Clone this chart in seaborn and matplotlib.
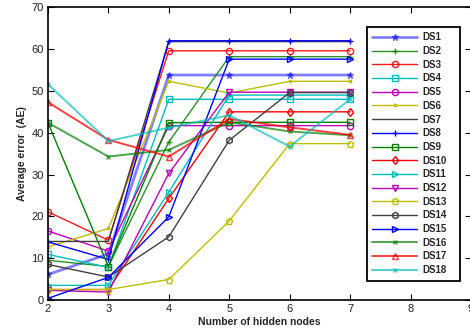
import matplotlib
matplotlib.use("Agg")
import matplotlib.pyplot as plt
import seaborn as sns
import pandas as pd

# hidden-node counts on the x axis
hidden_nodes = [2, 3, 4, 5, 6, 7]

# average error per dataset
DS1 = [6.1, 11.0, 53.8, 53.8, 53.8, 53.8]
DS2 = [9.5, 8.0, 37.8, 58.2, 58.2, 58.2]
DS3 = [21.1, 14.3, 59.6, 59.6, 59.6, 59.6]
DS4 = [10.9, 7.8, 48.0, 48.0, 48.0, 48.0]
DS5 = [16.5, 11.7, 41.7, 41.7, 41.7, 41.7]
DS6 = [12.7, 17.1, 52.3, 49.5, 52.3, 52.3]
DS7 = [14.0, 14.0, 61.8, 61.8, 61.8, 61.8]
DS8 = [13.9, 9.7, 62.0, 62.0, 62.0, 62.0]
DS9 = [42.4, 8.0, 42.4, 42.5, 42.5, 42.5]
DS10 = [2.5, 2.5, 24.3, 45.0, 45.0, 45.0]
DS11 = [3.5, 3.5, 25.8, 49.0, 49.0, 49.0]
DS12 = [2.3, 1.9, 30.3, 49.7, 49.7, 49.7]
DS13 = [2.5, 2.5, 4.9, 18.9, 37.4, 37.4]
DS14 = [8.5, 5.5, 15.1, 38.2, 49.6, 49.6]
DS15 = [0.4, 5.4, 19.9, 57.6, 57.6, 57.6]
DS16 = [42.4, 34.3, 35.9, 42.5, 40.3, 39.4]
DS17 = [47.3, 38.3, 34.3, 43.3, 41.3, 39.5]
DS18 = [51.6, 38.0, 41.2, 44.2, 36.7, 48.0]

series_names = ["DS1", "DS2", "DS3", "DS4", "DS5", "DS6", "DS7", "DS8", "DS9",
                "DS10", "DS11", "DS12", "DS13", "DS14", "DS15", "DS16", "DS17", "DS18"]
series_values = [DS1, DS2, DS3, DS4, DS5, DS6, DS7, DS8, DS9,
                 DS10, DS11, DS12, DS13, DS14, DS15, DS16, DS17, DS18]

BLUE = (0.0, 0.0, 1.0)
GREEN = (0.0, 0.5, 0.0)
RED = (1.0, 0.0, 0.0)
CYAN = (0.0, 0.75, 0.75)
MAGENTA = (0.75, 0.0, 0.75)
YELLOW = (0.75, 0.75, 0.0)
DARK = (0.25, 0.25, 0.25)

# colour, marker, hollow marker, line width, alpha
styles = {
    "DS1": (BLUE, "*", False, 2.0, 0.5),
    "DS2": (GREEN, "+", False, 1.0, 0.85),
    "DS3": (RED, "o", True, 1.0, 0.9),
    "DS4": (CYAN, "s", True, 1.0, 1.0),
    "DS5": (MAGENTA, "o", True, 1.0, 1.0),
    "DS6": (YELLOW, ".", False, 1.0, 1.0),
    "DS7": (DARK, "", False, 1.0, 1.0),
    "DS8": (BLUE, "+", False, 1.0, 1.0),
    "DS9": (GREEN, "s", True, 1.0, 1.0),
    "DS10": (RED, "d", True, 1.0, 1.0),
    "DS11": (CYAN, ">", True, 1.0, 1.0),
    "DS12": (MAGENTA, "v", True, 1.0, 1.0),
    "DS13": (YELLOW, "p", True, 1.0, 1.0),
    "DS14": (DARK, "h", True, 1.0, 1.0),
    "DS15": (BLUE, ">", True, 1.0, 1.0),
    "DS16": (GREEN, "x", False, 1.4, 0.7),
    "DS17": (RED, "^", True, 1.4, 0.75),
    "DS18": (CYAN, "x", False, 1.4, 0.7),
}

sns.set_theme(style="white")
plt.rcParams["font.family"] = ["Liberation Sans", "DejaVu Sans"]

fig = plt.figure(figsize=(4.70, 3.32), dpi=100)
ax = fig.add_axes([0.102, 0.0964, 0.900, 0.8816])

for name, vals in zip(series_names, series_values):
    color, marker, hollow, lw, alpha = styles[name]
    df = pd.DataFrame({"nodes": hidden_nodes, "error": vals})
    kw = dict(color=color, linewidth=lw, alpha=alpha, label=name)
    if marker:
        kw.update(marker=marker, markersize=4.5 if marker not in (".", "x") else 3.5,
                  markeredgecolor=color, markeredgewidth=1.0)
        kw["markerfacecolor"] = "none" if hollow else color
    sns.lineplot(data=df, x="nodes", y="error", ax=ax, **kw)

ax.set_xlim(2, 9)
ax.set_ylim(0, 70)
ax.set_xticks(range(2, 10))
ax.set_yticks(range(0, 71, 10))
ax.tick_params(direction="in", length=4, width=0.8, labelsize=8,
               top=True, right=True, bottom=True, left=True, pad=3,
               colors="black", labelcolor="#222222")
for sp in ax.spines.values():
    sp.set_color("black")
    sp.set_linewidth(1.2)

ax.set_xlabel("Number of hidden nodes", fontsize=7.5, fontweight="bold", labelpad=2)
ax.set_ylabel("Average error  (AE)", fontsize=7.5, fontweight="bold", labelpad=3)

# legend box spans a fixed region inside the axes
leg_x0, leg_x1 = 367 / 470, 460 / 470
leg_top, leg_bot = 1 - 27 / 332, 1 - 281 / 332
leg = ax.legend(loc="upper left",
                bbox_to_anchor=(leg_x0, leg_bot, leg_x1 - leg_x0, leg_top - leg_bot),
                bbox_transform=fig.transFigure, mode="expand",
                frameon=True, fancybox=False,
                prop={"weight": "bold", "size": 7}, handlelength=4.6,
                handletextpad=0.5, labelspacing=0.38, borderpad=0.55,
                borderaxespad=0.0)
leg.get_frame().set_edgecolor("black")
leg.get_frame().set_linewidth(1.3)
leg.get_frame().set_alpha(1.0)

fig.savefig("out.png", dpi=100)
